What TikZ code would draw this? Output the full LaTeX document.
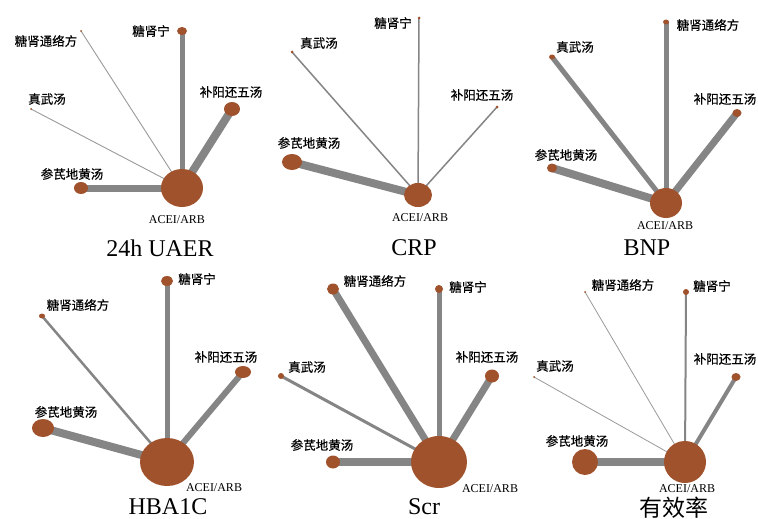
\documentclass[tikz,border=0pt]{standalone}
\usepackage{fontspec}
\setmainfont{Liberation Serif}
\newfontfamily\cjk[FakeBold=0.5]{Noto Sans CJK SC}
\newfontfamily\cjkt{Noto Sans CJK SC}
\usetikzlibrary{shapes.geometric,backgrounds}
\definecolor{nodebrown}{HTML}{A0522D}
\definecolor{edgegray}{HTML}{858585}
\definecolor{thingray}{HTML}{9A9A9A}
\tikzset{
  nd/.style={ellipse, fill=nodebrown, draw=none, inner sep=0pt},
  lab/.style={font=\cjk\fontsize{12.5}{13}\selectfont, inner sep=0pt},
  alab/.style={font=\fontsize{12}{12}\selectfont, inner sep=0pt},
  ttl/.style={font=\fontsize{24}{24}\selectfont, inner sep=0pt},
  cttl/.style={font=\cjkt\fontsize{23}{23}\selectfont, inner sep=0pt},
  edge/.style={draw=edgegray, line cap=butt},
  thin edge/.style={draw=thingray, line cap=butt}
}
\begin{document}
\begin{tikzpicture}[x=1pt,y=-1pt]
\useasboundingbox (0,0) rectangle (758,519);
% ---------- Panel 1: 24h UAER ----------
\node[nd, minimum width=42pt, minimum height=38pt] (a1) at (182,188) {};
\node[nd, minimum width=10pt, minimum height=8pt] (a1tsn) at (182,31) {};
\node[nd, minimum width=2pt, minimum height=2pt] (a1tst) at (81,31) {};
\node[nd, minimum width=2pt, minimum height=2pt] (a1zw) at (31,109) {};
\node[nd, minimum width=16pt, minimum height=14pt] (a1by) at (232,109) {};
\node[nd, minimum width=14pt, minimum height=12pt] (a1sq) at (81,188) {};
\node[lab] (a1tsnl) at (151,31) {糖肾宁};
\node[lab] (a1tstl) at (46,41) {糖肾通络方};
\node[lab] (a1zwl) at (47,99) {真武汤};
\node[lab] (a1byl) at (231,92) {补阳还五汤};
\node[lab] (a1sql) at (72,174) {参芪地黄汤};
\node[alab] (a1l) at (177,220) {ACEI/ARB};
\node[ttl] (t1) at (160,248) {24h UAER};
% ---------- Panel 2: CRP ----------
\node[nd, minimum width=28pt, minimum height=24pt] (a2) at (418,195) {};
\node[nd, minimum width=3pt, minimum height=3pt] (a2tsn) at (419,18) {};
\node[nd, minimum width=3pt, minimum height=3pt] (a2zw) at (292,52) {};
\node[nd, minimum width=3pt, minimum height=3pt] (a2by) at (497,107) {};
\node[nd, minimum width=20pt, minimum height=16pt] (a2sq) at (292,162) {};
\node[lab] (a2tsnl) at (393,23) {糖肾宁};
\node[lab] (a2zwl) at (319,43) {真武汤};
\node[lab] (a2byl) at (482,95) {补阳还五汤};
\node[lab] (a2sql) at (309,143) {参芪地黄汤};
\node[alab] (a2l) at (420,218) {ACEI/ARB};
\node[ttl] (t2) at (414,248) {CRP};
% ---------- Panel 3: BNP ----------
\node[nd, minimum width=32pt, minimum height=30pt] (a3) at (666,203) {};
\node[nd, minimum width=6pt, minimum height=5pt] (a3tst) at (666,22) {};
\node[nd, minimum width=6pt, minimum height=5pt] (a3zw) at (552,57) {};
\node[nd, minimum width=9pt, minimum height=8pt] (a3by) at (737,113) {};
\node[nd, minimum width=10pt, minimum height=9pt] (a3sq) at (552,168) {};
\node[lab] (a3tstl) at (708,25) {糖肾通络方};
\node[lab] (a3zwl) at (575,47) {真武汤};
\node[lab] (a3byl) at (725,99) {补阳还五汤};
\node[lab] (a3sql) at (566,155) {参芪地黄汤};
\node[alab] (a3l) at (665,226) {ACEI/ARB};
\node[ttl] (t3) at (647,248) {BNP};
% ---------- Panel 4: HBA1C ----------
\node[nd, minimum width=54pt, minimum height=48pt] (a4) at (167,462) {};
\node[nd, minimum width=12pt, minimum height=10pt] (a4tsn) at (167,281) {};
\node[nd, minimum width=6pt, minimum height=5pt] (a4tst) at (42,316) {};
\node[nd, minimum width=16pt, minimum height=12pt] (a4by) at (243,372) {};
\node[nd, minimum width=22pt, minimum height=18pt] (a4sq) at (43,428) {};
\node[lab] (a4tsnl) at (197,279) {糖肾宁};
\node[lab] (a4tstl) at (78,305) {糖肾通络方};
\node[lab] (a4byl) at (226,357) {补阳还五汤};
\node[lab] (a4sql) at (66,412) {参芪地黄汤};
\node[alab] (a4l) at (214,488) {ACEI/ARB};
\node[ttl] (t4) at (168,507) {HBA1C};
% ---------- Panel 5: Scr ----------
\node[nd, minimum width=56pt, minimum height=52pt] (a5) at (439,462) {};
\node[nd, minimum width=12pt, minimum height=11pt] (a5tst) at (333,289) {};
\node[nd, minimum width=8pt, minimum height=8pt] (a5tsn) at (439,289) {};
\node[nd, minimum width=6pt, minimum height=6pt] (a5zw) at (281,376) {};
\node[nd, minimum width=14pt, minimum height=13pt] (a5by) at (492,376) {};
\node[nd, minimum width=14pt, minimum height=13pt] (a5sq) at (333,462) {};
\node[lab] (a5tstl) at (375,281) {糖肾通络方};
\node[lab] (a5tsnl) at (468,287) {糖肾宁};
\node[lab] (a5zwl) at (307,367) {真武汤};
\node[lab] (a5byl) at (487,357) {补阳还五汤};
\node[lab] (a5sql) at (322,445) {参芪地黄汤};
\node[alab] (a5l) at (490,489) {ACEI/ARB};
\node[ttl] (t5) at (424,507) {Scr};
% ---------- Panel 6: 有效率 ----------
\node[nd, minimum width=42pt, minimum height=42pt] (a6) at (685,462) {};
\node[nd, minimum width=2pt, minimum height=2pt] (a6tst) at (585,292) {};
\node[nd, minimum width=6pt, minimum height=6pt] (a6tsn) at (686,292) {};
\node[nd, minimum width=2pt, minimum height=2pt] (a6zw) at (534,377) {};
\node[nd, minimum width=9pt, minimum height=8pt] (a6by) at (736,377) {};
\node[nd, minimum width=26pt, minimum height=26pt] (a6sq) at (585,462) {};
\node[lab] (a6tstl) at (623,285) {糖肾通络方};
\node[lab] (a6tsnl) at (712,286) {糖肾宁};
\node[lab] (a6zwl) at (555,366) {真武汤};
\node[lab] (a6byl) at (725,359) {补阳还五汤};
\node[lab] (a6sql) at (577,441) {参芪地黄汤};
\node[alab] (a6l) at (687,489) {ACEI/ARB};
\node[cttl] (t6) at (674,508) {有效率};
% ---------- Edges (behind nodes) ----------
\begin{pgfonlayer}{background}
\fill[white] (0,0) rectangle (758,519);
% panel 1
\draw[edge, line width=5pt] (a1.center) -- (a1tsn.center);
\draw[thin edge, line width=0.9pt] (a1.center) -- (a1tst.center);
\draw[thin edge, line width=0.9pt] (a1.center) -- (a1zw.center);
\draw[edge, line width=8pt] (a1.center) -- (a1by.center);
\draw[edge, line width=7pt] (a1.center) -- (a1sq.center);
% panel 2
\draw[edge, line width=1.5pt] (a2.center) -- (a2tsn.center);
\draw[edge, line width=1.5pt] (a2.center) -- (a2zw.center);
\draw[edge, line width=1.5pt] (a2.center) -- (a2by.center);
\draw[edge, line width=8pt] (a2.center) -- (a2sq.center);
% panel 3
\draw[edge, line width=5pt] (a3.center) -- (a3tst.center);
\draw[edge, line width=5pt] (a3.center) -- (a3zw.center);
\draw[edge, line width=7pt] (a3.center) -- (a3by.center);
\draw[edge, line width=8pt] (a3.center) -- (a3sq.center);
% panel 4
\draw[edge, line width=5pt] (a4.center) -- (a4tsn.center);
\draw[edge, line width=2.5pt] (a4.center) -- (a4tst.center);
\draw[edge, line width=6pt] (a4.center) -- (a4by.center);
\draw[edge, line width=8pt] (a4.center) -- (a4sq.center);
% panel 5
\draw[edge, line width=7pt] (a5.center) -- (a5tst.center);
\draw[edge, line width=5pt] (a5.center) -- (a5tsn.center);
\draw[edge, line width=3pt] (a5.center) -- (a5zw.center);
\draw[edge, line width=7pt] (a5.center) -- (a5by.center);
\draw[edge, line width=8pt] (a5.center) -- (a5sq.center);
% panel 6
\draw[thin edge, line width=0.8pt] (a6.center) -- (a6tst.center);
\draw[edge, line width=2pt] (a6.center) -- (a6tsn.center);
\draw[thin edge, line width=0.8pt] (a6.center) -- (a6zw.center);
\draw[edge, line width=4pt] (a6.center) -- (a6by.center);
\draw[edge, line width=8pt] (a6.center) -- (a6sq.center);
\end{pgfonlayer}
\end{tikzpicture}
\end{document}
